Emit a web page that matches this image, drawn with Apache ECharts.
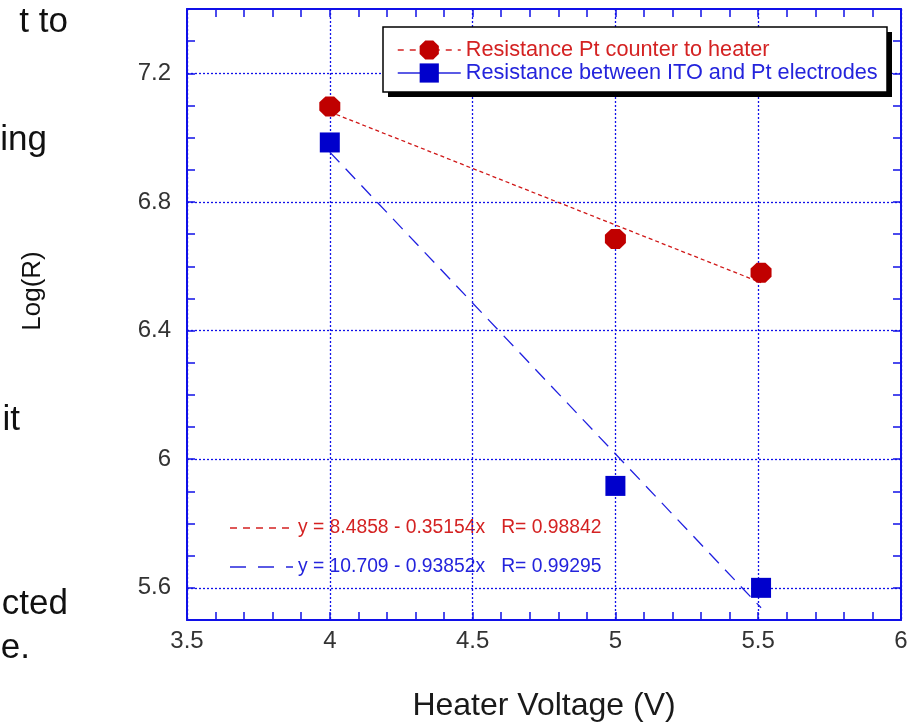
<!DOCTYPE html>
<html><head><meta charset="utf-8">
<script src="https://cdn.jsdelivr.net/npm/echarts@6/dist/echarts.min.js"></script>
<style>html,body{margin:0;padding:0;background:#fff}#c{width:917px;height:724px}</style>
</head><body><div id="c"></div>
<script>
// ---- data ----
const xTickLabels = [3.5, 4, 4.5, 5, 5.5, 6];
const yTickLabels = [5.6, 6, 6.4, 6.8, 7.2];
const seriesNames = ['Resistance Pt counter to heater', 'Resistance between ITO and Pt electrodes'];
const ptVoltage = [4.0, 5.0, 5.51];
const ptLogR = [7.097, 6.685, 6.58];
const itoVoltage = [4.0, 5.0, 5.51];
const itoLogR = [6.985, 5.917, 5.6];
const ptFitX = [4.0, 5.51];
const ptFitY = [7.080, 6.549];
const itoFitX = [4.0, 5.51];
const itoFitY = [6.955, 5.538];
const fitLabels = ['y = 8.4858 - 0.35154x   R= 0.98842', 'y = 10.709 - 0.93852x   R= 0.99295'];
const sideText = ['t to', 'ing', 'it', 'cted', 'e.'];
const xName = 'Heater Voltage (V)';
const yName = 'Log(R)';

// ---- styling ----
const FONT = "'Liberation Sans', Arial, Helvetica, sans-serif";
const AXIS_BLUE = '#1010e8';
const RED = '#c00000';
const RED_TXT = '#d42222';
const BLUE = '#0000cc';
const BLUE_TXT = '#2424dc';
const OCTAGON = 'path://M-0.414,-1L0.414,-1L1,-0.414L1,0.414L0.414,1L-0.414,1L-1,0.414L-1,-0.414Z';

const zip = (a, b) => a.map((v, i) => [v, b[i]]);
const isLabel = v => yTickLabels.some(t => Math.abs(t - v) < 1e-6);

const chart = echarts.init(document.getElementById('c'), null, {renderer: 'canvas'});

const xBase = {
  type: 'value', min: xTickLabels[0], max: xTickLabels[xTickLabels.length - 1], interval: 0.5,
  axisLine: {show: true, onZero: false, lineStyle: {color: AXIS_BLUE, width: 2}},
  axisTick: {show: true, inside: true, length: 8, lineStyle: {color: AXIS_BLUE, width: 1.5}},
  minorTick: {show: true, splitNumber: 5, length: 8, lineStyle: {color: AXIS_BLUE, width: 1.5}},
};
const yBase = {
  type: 'value', min: 5.5, max: 7.4, interval: 0.1,
  axisLine: {show: true, onZero: false, lineStyle: {color: AXIS_BLUE, width: 2}},
  axisTick: {show: true, inside: true, length: 8, lineStyle: {color: AXIS_BLUE, width: 1.5}},
  splitLine: {show: false}
};

const option = {
  backgroundColor: '#fff',
  animation: false,
  textStyle: {fontFamily: FONT},
  grid: {left: 187, right: 16, top: 9, bottom: 104, containLabel: false, outerBoundsMode: 'none'},
  xAxis: [
    Object.assign({}, xBase, {
      position: 'bottom',
      name: xName, nameLocation: 'middle', nameGap: 70,
      nameTextStyle: {fontSize: 32, color: '#1a1a1a', fontFamily: FONT},
      axisLabel: {show: true, fontSize: 24, color: '#333', margin: 9, fontFamily: FONT,
                  formatter: v => String(v)},
      splitLine: {show: true, lineStyle: {color: AXIS_BLUE, width: 1.3, type: [2, 2]}}
    }),
    Object.assign({}, xBase, {
      position: 'top', axisLabel: {show: false}, splitLine: {show: false}
    })
  ],
  yAxis: [
    Object.assign({}, yBase, {
      position: 'left',
      axisLabel: {show: true, fontSize: 24, color: '#333', margin: 16, fontFamily: FONT,
                  formatter: v => isLabel(v) ? String(+(+v).toFixed(1)) : ''}
    }),
    Object.assign({}, yBase, {position: 'right', axisLabel: {show: false}})
  ],
  legend: {
    orient: 'vertical', left: 383, top: 27, z: 10,
    padding: [12, 10, 4, 14], itemGap: 1, itemWidth: 63, itemHeight: 24, itemTextGap: 6,
    selectedMode: false,
    textStyle: {fontSize: 21.7, fontFamily: FONT},
    data: [
      {name: seriesNames[0], textStyle: {color: RED_TXT},
       lineStyle: {color: RED_TXT, width: 1.5, type: [6, 6], opacity: 1}},
      {name: seriesNames[1], textStyle: {color: BLUE_TXT},
       lineStyle: {color: BLUE_TXT, width: 1.5, type: 'solid', opacity: 1}}
    ]
  },
  series: [
    {
      type: 'line', name: 'fit-pt', data: zip(ptFitX, ptFitY), symbol: 'none', silent: true, z: 2,
      lineStyle: {color: '#d01818', width: 1.3, type: [4, 3]}
    },
    {
      type: 'line', name: 'fit-ito', data: zip(itoFitX, itoFitY), symbol: 'none', silent: true, z: 2,
      lineStyle: {color: '#2020e0', width: 1.3, type: [14, 9]}
    },
    {
      type: 'line', name: seriesNames[0], data: zip(ptVoltage, ptLogR), z: 4,
      symbol: OCTAGON, symbolSize: [21, 20], showAllSymbol: true,
      itemStyle: {color: RED},
      lineStyle: {width: 0, opacity: 0}
    },
    {
      type: 'line', name: seriesNames[1], data: zip(itoVoltage, itoLogR), z: 4,
      symbol: 'rect', symbolSize: [20, 20], showAllSymbol: true,
      itemStyle: {color: BLUE},
      lineStyle: {width: 0, opacity: 0},
      markLine: {
        silent: true, symbol: ['none', 'none'], z: 1, animation: false,
        label: {show: false},
        lineStyle: {color: AXIS_BLUE, width: 1.3, type: [2, 2]},
        data: yTickLabels.map(v => ({yAxis: v}))
      }
    }
  ],
  graphic: [
    {type: 'rect', z: 5, silent: true, shape: {x: 388, y: 32, width: 504, height: 65},
     style: {fill: '#000'}},
    {type: 'rect', z: 6, silent: true, shape: {x: 383, y: 27, width: 504, height: 65},
     style: {fill: '#fff', stroke: '#000', lineWidth: 1.5}},
    {type: 'text', x: 33, y: 291, rotation: Math.PI / 2,
     style: {text: yName, fill: '#111', align: 'center', verticalAlign: 'middle', font: '26px ' + FONT}},
    {type: 'text', x: 68, y: 22, style: {text: sideText[0], font: '35px ' + FONT, fill: '#111', align: 'right', verticalAlign: 'middle'}},
    {type: 'text', x: 47, y: 140, style: {text: sideText[1], font: '35px ' + FONT, fill: '#111', align: 'right', verticalAlign: 'middle'}},
    {type: 'text', x: 20, y: 420, style: {text: sideText[2], font: '35px ' + FONT, fill: '#111', align: 'right', verticalAlign: 'middle'}},
    {type: 'text', x: 68, y: 604, style: {text: sideText[3], font: '35px ' + FONT, fill: '#111', align: 'right', verticalAlign: 'middle'}},
    {type: 'text', x: 30, y: 648, style: {text: sideText[4], font: '35px ' + FONT, fill: '#111', align: 'right', verticalAlign: 'middle'}},
    {type: 'line', shape: {x1: 230, y1: 528, x2: 293, y2: 528}, style: {stroke: RED_TXT, lineWidth: 1.5, lineDash: [7, 6]}},
    {type: 'line', shape: {x1: 230, y1: 567, x2: 293, y2: 567}, style: {stroke: BLUE_TXT, lineWidth: 1.5, lineDash: [16, 12]}},
    {type: 'text', x: 298, y: 528, style: {text: fitLabels[0], font: '19.3px ' + FONT, fill: RED_TXT, align: 'left', verticalAlign: 'middle'}},
    {type: 'text', x: 298, y: 567, style: {text: fitLabels[1], font: '19.3px ' + FONT, fill: BLUE_TXT, align: 'left', verticalAlign: 'middle'}}
  ]
};
chart.setOption(option);
</script>
</body></html>
